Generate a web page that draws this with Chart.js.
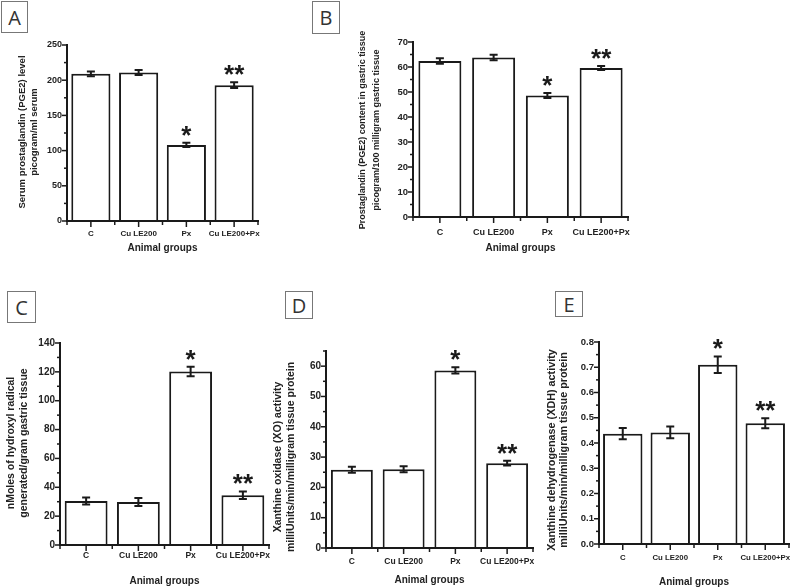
<!DOCTYPE html>
<html>
<head>
<meta charset="utf-8">
<script src="https://cdn.jsdelivr.net/npm/chart.js@4.4.1/dist/chart.umd.min.js"></script>
<style>
  body { margin: 0; background: #fff; width: 791px; height: 588px; position: relative; overflow: hidden; }
  canvas.panel { position: absolute; }
  .tag {
    position: absolute; box-sizing: border-box; border: 1px solid #777;
    font-family: "Open Sans", sans-serif; font-size: 20px; color: #333;
    display: flex; align-items: center; justify-content: center;
  }
</style>
</head>
<body>
<div class="tag" style="left:1px;top:1px;width:27px;height:32px">A</div>
<div class="tag" style="left:312px;top:1px;width:28px;height:33px">B</div>
<div class="tag" style="left:7px;top:291px;width:29px;height:32px">C</div>
<div class="tag" style="left:285px;top:291px;width:28px;height:28px">D</div>
<div class="tag" style="left:555px;top:291px;width:28px;height:26px">E</div>

<script>
Chart.defaults.font.family = '"Liberation Sans", Arial, sans-serif';
Chart.defaults.color = '#222';

// groups + significance marks (same for all panels)
const groupLabels = ['C', 'Cu LE200', 'Px', 'Cu LE200+Px'];
const significance = ['', '', '*', '**'];

// means and error (SEM)
const serumPGE2 = [209, 211, 108, 193];
const serumPGE2Err = [3.5, 3.5, 3, 4];
const gastricPGE2 = [62.4, 63.8, 48.6, 59.6];
const gastricPGE2Err = [1.1, 1.1, 1.0, 0.8];
const hydroxylRadical = [30.5, 29.8, 120.3, 34.5];
const hydroxylRadicalErr = [2.5, 2.7, 3.3, 2.6];
const xoActivity = [25.8, 26.0, 58.6, 28.0];
const xoActivityErr = [1.0, 1.0, 1.0, 0.8];
const xdhActivity = [0.437, 0.442, 0.71, 0.478];
const xdhActivityErr = [0.022, 0.023, 0.033, 0.02];

// y axes: max, labelled step, minor step, decimals
const yAxisA = [250, 50, 25, 0];
const yAxisB = [70, 10, 5, 0];
const yAxisC = [140, 20, 10, 0];
const yAxisD = [65, 10, 5, 0];
const yAxisE = [0.8, 0.1, 0.05, 1];

const xTitle = 'Animal groups';
const yTitleA = ['Serum prostaglandin (PGE2) level', 'picogram/ml serum'];
const yTitleB = ['Prostaglandin (PGE2) content in gastric tissue', 'picogram/100 milligram gastric tissue'];
const yTitleC = ['nMoles of hydroxyl radical', 'generated/gram gastric tissue'];
const yTitleD = ['Xanthine oxidase (XO) activity', 'milliUnits/min/milligram tissue protein'];
const yTitleE = ['Xanthine dehydrogenase (XDH) activity', 'milliUnits/min/milligram tissue protein'];

const INK = '#1a1a1a';

const isMultiple = (v, step) => Math.abs(v / step - Math.round(v / step)) < 1e-6;

// tick marks, error bars, stars and the rotated y title
const figureMarks = {
    id: 'figureMarks',
    afterDraw(chart, args, opts) {
        const { ctx, chartArea } = chart;
        const xs = chart.scales.x, ys = chart.scales.y;
        ctx.save();
        ctx.strokeStyle = INK;

        // bars paint over half the axis line, put it back on top
        ctx.lineWidth = 2;
        ctx.beginPath();
        ctx.moveTo(chartArea.left - 1, chartArea.bottom);
        ctx.lineTo(chartArea.right, chartArea.bottom);
        ctx.stroke();

        ctx.lineWidth = 1.5;
        ys.ticks.forEach(t => {
            const py = ys.getPixelForValue(t.value);
            const len = isMultiple(t.value, opts.major) ? 5 : 3;
            ctx.beginPath();
            ctx.moveTo(chartArea.left, py);
            ctx.lineTo(chartArea.left - len, py);
            ctx.stroke();
        });
        const n = chart.data.labels.length;
        for (let i = 0; i <= n; i++) {
            const pb = xs.getPixelForValue(i - 0.5);
            ctx.beginPath();
            ctx.moveTo(pb, chartArea.bottom);
            ctx.lineTo(pb, chartArea.bottom + 4);
            ctx.stroke();
            if (i < n) {
                const pc = xs.getPixelForValue(i);
                ctx.beginPath();
                ctx.moveTo(pc, chartArea.bottom);
                ctx.lineTo(pc, chartArea.bottom + 6);
                ctx.stroke();
            }
        }

        const values = chart.data.datasets[0].data;
        const meta = chart.getDatasetMeta(0);
        ctx.lineWidth = 2;
        meta.data.forEach((bar, i) => {
            const hi = ys.getPixelForValue(values[i] + opts.err[i]);
            const lo = ys.getPixelForValue(values[i] - opts.err[i]);
            ctx.beginPath();
            ctx.moveTo(bar.x, hi); ctx.lineTo(bar.x, lo);
            ctx.moveTo(bar.x - 4, hi); ctx.lineTo(bar.x + 4, hi);
            ctx.moveTo(bar.x - 4, lo); ctx.lineTo(bar.x + 4, lo);
            ctx.stroke();
            if (opts.stars[i]) {
                ctx.fillStyle = INK;
                ctx.font = 'bold 26px "Liberation Sans", Arial, sans-serif';
                ctx.textAlign = 'center';
                ctx.textBaseline = 'alphabetic';
                ctx.fillText(opts.stars[i], bar.x, hi + 1);
            }
        });

        ctx.fillStyle = '#222';
        ctx.font = `bold ${opts.titleSize}px "Liberation Sans", Arial, sans-serif`;
        ctx.textAlign = 'center';
        ctx.textBaseline = 'middle';
        opts.title.forEach((line, k) => {
            ctx.save();
            ctx.translate(opts.titleX[k], opts.titleY);
            ctx.rotate(-Math.PI / 2);
            ctx.fillText(line, 0, 0);
            ctx.restore();
        });
        ctx.restore();
    }
};

// canvas box and plot area in page pixels: [left, top, right, bottom]
const panels = [
    { values: serumPGE2, err: serumPGE2Err, axis: yAxisA, title: yTitleA,
      canvas: [0, 35, 272, 260], area: [67, 45, 258, 221], titleX: [22, 34], titleY: 132, titleSize: 9.5,
      tickSize: 9, catSize: 8, catGap: [6, 2], xTitlePad: 6, barPct: 0.82 },
    { values: gastricPGE2, err: gastricPGE2Err, axis: yAxisB, title: yTitleB,
      canvas: [350, 30, 642, 262], area: [413, 42, 628, 217], titleX: [363, 377], titleY: 130, titleSize: 9,
      tickSize: 9.5, catSize: 9, catGap: [6, 4], xTitlePad: 8, barPct: 0.80 },
    { values: hydroxylRadical, err: hydroxylRadicalErr, axis: yAxisC, title: yTitleC,
      canvas: [0, 330, 282, 588], area: [60, 343, 269, 545], titleX: [11, 24], titleY: 443, titleSize: 10.5,
      tickSize: 10, catSize: 8.5, catGap: [5, 1], xTitlePad: 1, barPct: 0.82 },
    { values: xoActivity, err: xoActivityErr, axis: yAxisD, title: yTitleD,
      canvas: [270, 335, 546, 588], area: [326, 351, 533, 548], titleX: [278, 291], titleY: 457, titleSize: 10.5,
      tickSize: 10, catSize: 8.5, catGap: [6, 3], xTitlePad: 2, barPct: 0.81 },
    { values: xdhActivity, err: xdhActivityErr, axis: yAxisE, title: yTitleE,
      canvas: [540, 330, 791, 588], area: [599, 342, 789, 544], titleX: [552, 564], titleY: 450, titleSize: 10.8,
      tickSize: 9.5, catSize: 7.8, catGap: [6, 3], xTitlePad: 0, barPct: 0.83 }
];

panels.forEach(p => {
    const [cl, ct, cr, cb] = p.canvas;
    const [al, at, ar, ab] = p.area;
    const [yMax, major, minor, digits] = p.axis;
    const canvas = document.createElement('canvas');
    canvas.className = 'panel';
    canvas.width = cr - cl;
    canvas.height = cb - ct;
    canvas.style.left = cl + 'px';
    canvas.style.top = ct + 'px';
    document.body.appendChild(canvas);

    new Chart(canvas, {
        type: 'bar',
        data: {
            labels: groupLabels,
            datasets: [{
                data: p.values,
                backgroundColor: '#fff',
                borderColor: INK,
                borderWidth: 2,
                barPercentage: p.barPct,
                categoryPercentage: 1
            }]
        },
        options: {
            responsive: false,
            animation: false,
            devicePixelRatio: 1,
            layout: { padding: { left: 0, top: at - ct, right: cr - ar, bottom: 0 } },
            plugins: {
                legend: { display: false },
                tooltip: { enabled: false },
                figureMarks: {
                    err: p.err, stars: significance, major,
                    title: p.title, titleX: p.titleX.map(x => x - cl), titleY: p.titleY - ct, titleSize: p.titleSize
                }
            },
            scales: {
                x: {
                    offset: true,
                    grid: { display: false, drawTicks: true, tickLength: p.catGap[0] },
                    border: { display: true, color: INK, width: 2 },
                    ticks: { autoSkip: false, maxRotation: 0, minRotation: 0, padding: p.catGap[1],
                             font: { size: p.catSize, weight: 'bold' }, color: '#222' },
                    title: { display: true, text: xTitle, color: '#222',
                             font: { size: 10, weight: 'bold' }, padding: { top: 0, bottom: p.xTitlePad } },
                    afterFit: s => { s.height = cb - ab; s.paddingLeft = 0; s.paddingRight = 0; }
                },
                y: {
                    min: 0,
                    max: yMax,
                    grid: { display: false, drawTicks: true, tickLength: 4 },
                    border: { display: true, color: INK, width: 2 },
                    ticks: { stepSize: minor, autoSkip: false, padding: 1, color: '#222',
                             font: { size: p.tickSize, weight: 'bold' },
                             callback: v => isMultiple(v, major) ? v.toFixed(digits) : '' },
                    afterFit: s => { s.width = al - cl; }
                }
            }
        },
        plugins: [figureMarks]
    });
});
</script>
</body>
</html>
